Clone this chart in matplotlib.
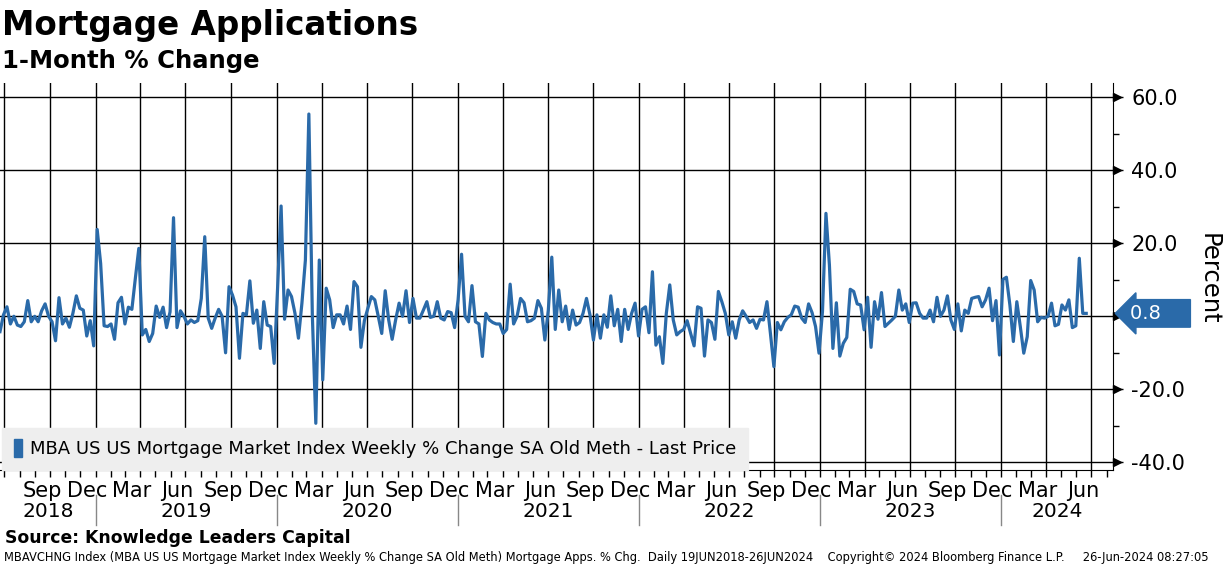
import numpy as np
import pandas as pd
import matplotlib
matplotlib.use("Agg")
import matplotlib.pyplot as plt
import matplotlib.dates as mdates
import matplotlib.transforms as mtransforms
from matplotlib.patches import Patch
from matplotlib.ticker import MultipleLocator

# weekly % change (Jun 2018 -> Jun 2024), in chunks
part1 = [-4.2, 0.4, 2.6, -2.1, 0, -2.4, -2.8, -1.5, 4.3, -1.5, 0, -1.5, 1.5, 3.4, 0, -1.5, -6.7,
         5.1, -2.1, -0.5, -3, 0.8, 5.6, 2.2, 1.7, -5.4, -1.2, -8.1, 23.8, 14.5, -2.6, -2.8, -2.1]
part2 = [-6.3, 3.7, 5.2, -2.1, 2.5, 1.9, 10.4, 18.6, -5.1, -3.6, -6.9, -4.7, 2.8, -0.3, 2.5, -3.1,
         1.2, 27, -3.1, 1.5, 0, -2.1, -1, -1.7, -1.2, 4.9, 21.8, -0.5, -3.3, -0.5, 1.9]
part3 = [0, -10, 8.1, 5.8, 2.6, -11.5, 0.8, 0.4, 9.7, -1.9, 1.7, -8.8, 4, -2.4, -2.8, -12.9, 8,
         30.2, -0.8, 7.2, 5.4, 0.8, -6, 3.6, 15.4, 55.4, 0.4, -29.3, 15.4, -17.4, 7.7, 4.5]
part4 = [-3.1, 0.4, 0.4, -2.1, 2.8, -3.6, 9.5, 8.1, -8.5, -1.2, 2.2, 5.4, 4.5, 0, -4.7, 7, -1,
         -6.3, -1, 3.6, 0, 7, -1.7, 4.9, -0.5, -0.5, 1.7, 4, -0.3, 0, 4, -0.5]
part5 = [-1, 1.3, 1, -3.1, 4.5, 17, 0, -1.5, 8.4, -1.5, -2.1, -11, 0.8, -1, -1.7, -2.1, -2.1,
         -4.7, -3.6, 8.8, -2.1, 0, 4.9, 3.7, -1.5, -1.2, -0.5, 4.3, 2.2, -6.5, 1.7, 16.2]
part6 = [-3.6, 7.2, -1.5, 2.8, -3.6, 1.7, -2.4, -1.7, 0.8, 4.9, 0.4, -6.5, 0.4, -6, 0.4, -3, 5.6,
         -2.6, 1.9, -6.9, 1.9, -3.6, 0.8, 3.6, -5.4, 1.9, 2.6, -4.5, 12.2, -7.9, -5.6]
part7 = [-12.9, 0.8, 8.6, -1, -5.1, -4.2, -3.6, -1.2, -4.7, -8.1, 2.6, 2.2, -10.9, -1, -1.7, -6.3,
         6.8, 4, 0.8, -5.1, -1.5, -6, -1, 1.5, 0, -1.7, -1, -3.3, -0.8, -1, 4, -4.7]
part8 = [-13.8, -1.7, -3.7, -1.5, -0.3, 0.4, 2.8, 2.5, -0.5, -1.7, 3.4, 1, -2.8, -10.1, 1.3, 28.2,
         14, -8.8, 3.7, -10.9, -7.4, -5.8, 7.4, 6.8, 3.4, 3.1, -3.7, 5.2, -8.5, 4, -0.8, 6.5]
part9 = [-2.8, -1.9, -1, 0, 7.2, 1.7, 3.4, -1.7, 3.6, 3.7, 0.8, -0.5, -0.5, 1.7, -1.5, 5.2, 0,
         1.7, 5.6, -1, -3.6, 3.4, -4, 1.7, 0.8, 4.9, 5.2, 5.4, 2.6, 4.5, 7.7]
part10 = [-1.2, 4.3, -10.6, 10.1, 10.7, 3.1, -6.9, 4, -2.8, -10.1, -5.6, 9.8, 7.2, -1.5, -0.3,
          -0.5, 0, 3.6, -2.6, -2.2, 3.1, 1.7, 4.5, -3.1, -2.6, 15.9, 0.8, 0.8]

values = np.array(part1 + part2 + part3 + part4 + part5 + part6 + part7 + part8 + part9 + part10)
dates = pd.date_range(end="2024-06-21", periods=len(values), freq="7D")

yticks = [-40, -20, 0, 20, 40, 60]
years = [2018, 2019, 2020, 2021, 2022, 2023, 2024]
legend_label = "MBA US US Mortgage Market Index Weekly % Change SA Old Meth - Last Price"

blue = "#2a6aa9"
xmin, xmax = pd.Timestamp("2018-06-22"), pd.Timestamp("2024-08-14")

fig = plt.figure(figsize=(12.24, 5.66), dpi=100)
ax = fig.add_axes([0.0, 1 - 470 / 566, 1113 / 1224, 387 / 566])

ax.plot(dates, values, color=blue, lw=2.3, solid_joinstyle="round", zorder=3)
ax.set_xlim(xmin, xmax)
ax.set_ylim(-42.1, 63.9)

# vertical grid at quarter starts
for q in pd.date_range("2018-07-01", "2024-07-01", freq="QS"):
    ax.axvline(q, color="black", lw=1, zorder=1)
ax.set_yticks(yticks)
# the 0 label sits under the last-value tag
ax.set_yticklabels(["" if v == 0 else f"{v:.1f}" for v in yticks])
ax.yaxis.set_minor_locator(MultipleLocator(10))
ax.grid(axis="y", which="major", color="black", lw=1, zorder=1)
ax.set_axisbelow(True)

ax.yaxis.tick_right()
ax.tick_params(axis="y", which="major", length=7, width=1, labelsize=15, pad=6)
ax.tick_params(axis="y", which="minor", length=4, width=1)
tr_y = mtransforms.blended_transform_factory(ax.transAxes, ax.transData)
ax.plot([1.004] * len(yticks), yticks, ls="none", marker=">", ms=5.5, color="black",
        transform=tr_y, clip_on=False)

# month labels mid-month, monthly tick marks
label_dates = pd.date_range("2018-09-01", "2024-06-01", freq="3MS") + pd.Timedelta(days=14)
ax.set_xticks(label_dates)
ax.set_xticklabels([d.strftime("%b") for d in label_dates])
ax.xaxis.set_minor_locator(mdates.MonthLocator())
ax.tick_params(axis="x", which="major", length=0, labelsize=15, pad=8)
ax.tick_params(axis="x", which="minor", length=5, width=1)

tr_x = mtransforms.blended_transform_factory(ax.transData, ax.transAxes)
for yr in years:
    lo = max(pd.Timestamp(f"{yr}-01-01"), xmin)
    hi = min(pd.Timestamp(f"{yr + 1}-01-01"), xmax)
    mid = lo + (hi - lo) / 2
    ax.text(mid, -0.108, str(yr), transform=tr_x, ha="center", va="center", fontsize=14.5)
    if yr > 2018:
        ax.plot([lo, lo], [-0.064, -0.142], color="#888888", lw=1, transform=tr_x, clip_on=False)

for s in ["left", "top"]:
    ax.spines[s].set_visible(False)
ax.spines["right"].set_color("black")
ax.spines["bottom"].set_color("black")

leg = ax.legend(handles=[Patch(facecolor=blue, edgecolor=blue)], labels=[legend_label],
                loc="lower left", bbox_to_anchor=(0.002, 0.0), fontsize=13,
                handlelength=0.45, handleheight=1.1, handletextpad=0.45,
                fancybox=False, framealpha=1, facecolor="#eeeeee", edgecolor="#eeeeee",
                borderpad=0.65, borderaxespad=0)
leg.set_zorder(5)

# last value tag
ax.text(1.0155, values[-1], f"{values[-1]:.1f}    ", transform=tr_y, color="white",
        fontsize=14, va="center", ha="left",
        bbox=dict(boxstyle="larrow,pad=0.22", fc=blue, ec=blue))

fig.text(1209 / 1224, 1 - 279 / 566, "Percent", rotation=270, ha="center", va="center",
         fontsize=17.5)

fig.text(0.002, 1 - 35 / 566, "Mortgage Applications", fontsize=23.5, fontweight="bold",
         va="baseline")
fig.text(0.002, 1 - 68 / 566, "1-Month % Change", fontsize=17.5, fontweight="bold",
         va="baseline")
fig.text(0.004, 1 - 543 / 566, "Source: Knowledge Leaders Capital", fontsize=12.4,
         fontweight="bold", va="baseline")
fig.text(0.003, 1 - 561 / 566,
         "MBAVCHNG Index (MBA US US Mortgage Market Index Weekly % Change SA Old Meth) "
         "Mortgage Apps. % Chg.  Daily 19JUN2018-26JUN2024    Copyright\u00a9 2024 Bloomberg "
         "Finance L.P.     26-Jun-2024 08:27:05",
         fontsize=8.3, va="baseline")

fig.savefig("out.png", dpi=100)
